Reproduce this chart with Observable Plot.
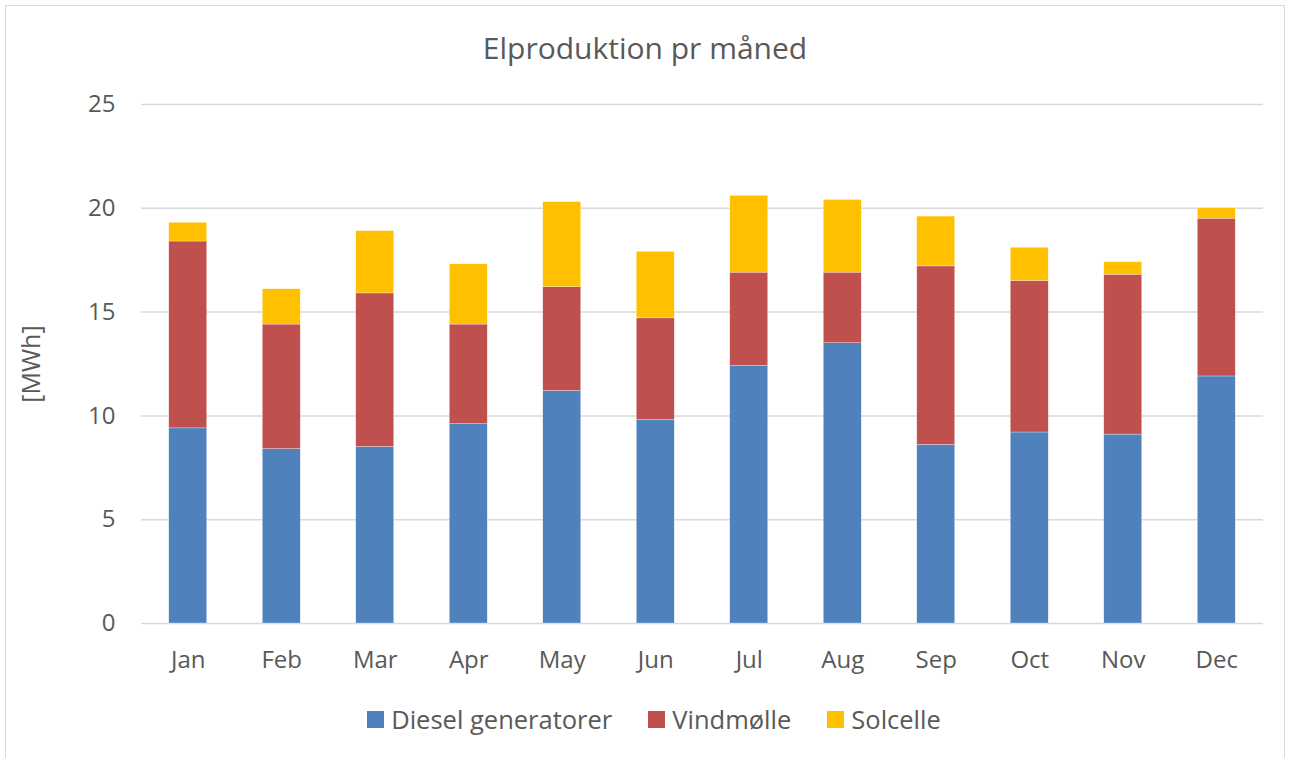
<!DOCTYPE html>
<html>
<head>
<meta charset="utf-8">
<script src="https://cdn.jsdelivr.net/npm/d3@7"></script>
<script src="https://cdn.jsdelivr.net/npm/@observablehq/plot@0.6"></script>
<style>
  html, body { margin: 0; padding: 0; background: #fff; }
  body { width: 1290px; height: 758px; overflow: hidden; position: relative; font-family: "Open Sans", "Noto Sans", sans-serif; }
  #frame { position: absolute; left: 5px; top: 5px; width: 1280px; height: 770px; border: 1.5px solid #d9d9d9; box-sizing: border-box; }
  #title { position: absolute; top: 27px; left: 0; width: 1290px; text-align: center; font-size: 30px; color: #595959; }
  #chart { position: absolute; top: 80px; left: 0; }
  #legend { position: absolute; top: 702px; left: 9px; width: 1290px; display: flex; justify-content: center; font-size: 25.5px; color: #595959; }
  .item { display: flex; align-items: center; margin: 0 18px; }
  .sw { width: 17px; height: 17px; margin-right: 7px; }
</style>
</head>
<body>
<div id="frame"></div>
<div id="title">Elproduktion pr måned</div>
<div id="chart"></div>
<div id="legend"></div>
<script>
const months = ["Jan","Feb","Mar","Apr","May","Jun","Jul","Aug","Sep","Oct","Nov","Dec"];
const seriesNames = ["Diesel generatorer","Vindmølle","Solcelle"];
const colors = ["#4F81BD","#C0504D","#FFC000"];
const diesel = [9.4, 8.4, 8.5, 9.6, 11.2, 9.8, 12.4, 13.5, 8.6, 9.2, 9.1, 11.9];
const vind   = [9.0, 6.0, 7.4, 4.8, 5.0, 4.9, 4.5, 3.4, 8.6, 7.3, 7.7, 7.6];
const sol    = [0.9, 1.7, 3.0, 2.9, 4.1, 3.2, 3.7, 3.5, 2.4, 1.6, 0.6, 0.5];
const yTicks = [0, 5, 10, 15, 20, 25];

const seriesValues = [diesel, vind, sol];
const data = [];
seriesNames.forEach((s, si) => {
  months.forEach((m, mi) => data.push({month: m, series: s, value: seriesValues[si][mi]}));
});

const chart = Plot.plot({
  width: 1290,
  height: 620,
  marginTop: 24,
  marginBottom: 77,
  marginLeft: 141,
  marginRight: 27,
  style: {fontFamily: "'Open Sans', 'Noto Sans', sans-serif", fontSize: "24px", color: "#595959", background: "transparent"},
  x: {domain: months, paddingInner: 0.594, paddingOuter: 0.297, round: false, label: null, tickSize: 0},
  y: {domain: [0, 25], ticks: yTicks, label: null, tickSize: 0},
  color: {domain: seriesNames, range: colors},
  marks: [
    Plot.gridY(yTicks, {stroke: "#d9d9d9", strokeOpacity: 1, strokeWidth: 1.5}),
    Plot.barY(data, Plot.stackY({order: seriesNames}, {x: "month", y: "value", fill: "series", stroke: "#ffffff", strokeWidth: 0.5, strokeOpacity: 0.6})),
    Plot.axisX({tickSize: 0, tickPadding: 27, fontSize: 24, fill: "#595959"}),
    Plot.axisY({ticks: yTicks, tickSize: 0, tickPadding: 26, fontSize: 24, fill: "#595959"}),
    Plot.text(["[MWh]"], {frameAnchor: "left", textAnchor: "middle", dx: -110, rotate: -90, fontSize: 25, fill: "#595959"})
  ]
});
document.getElementById("chart").appendChild(chart);

const legend = document.getElementById("legend");
seriesNames.forEach((s, i) => {
  const it = document.createElement("div");
  it.className = "item";
  const sw = document.createElement("div");
  sw.className = "sw";
  sw.style.background = colors[i];
  const t = document.createElement("span");
  t.textContent = s;
  it.appendChild(sw);
  it.appendChild(t);
  legend.appendChild(it);
});
</script>
</body>
</html>
